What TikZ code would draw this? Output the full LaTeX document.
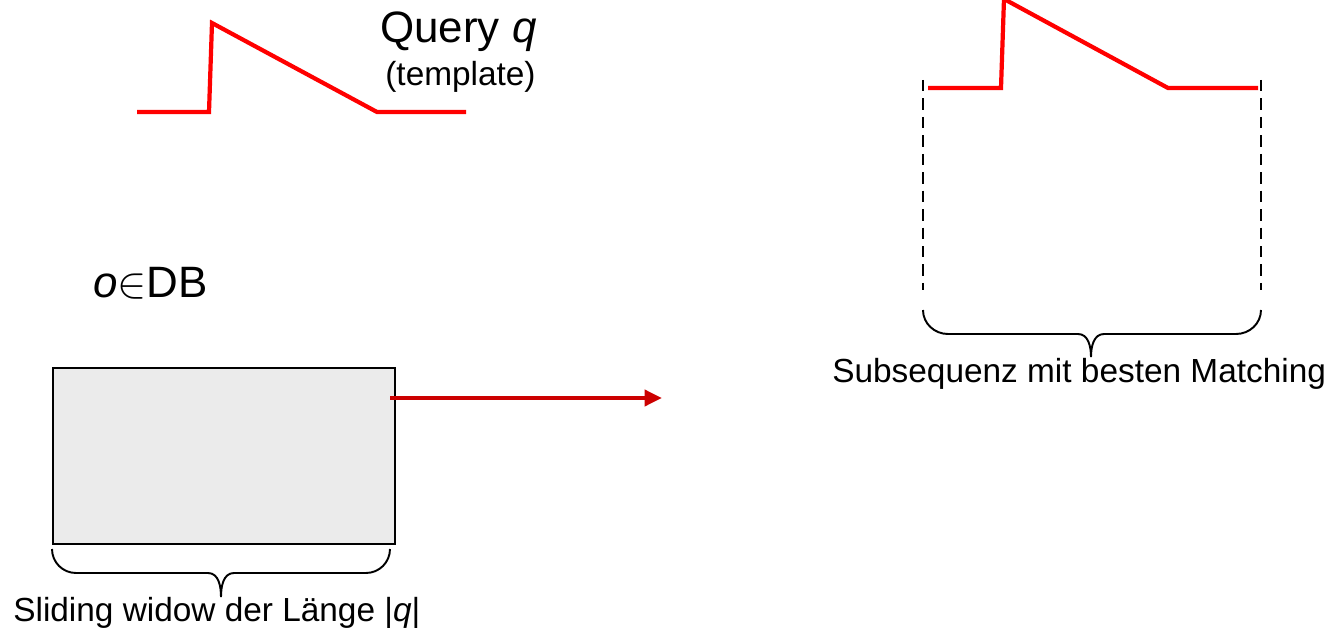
\documentclass[tikz,border=0pt]{standalone}
\usepackage{fontspec}
\setmainfont{Liberation Sans}
\usetikzlibrary{arrows.meta,positioning}

\begin{document}
\begin{tikzpicture}[
  x=0.02cm, y=-0.02cm,
  every node/.style={inner sep=0pt, anchor=base west},
  big/.style={font=\fontsize{25}{30}\selectfont},
  small/.style={font=\fontsize{19}{23}\selectfont},
  sigline/.style={draw=red, line width=2.4pt, line join=miter},
  bound/.style={draw=black, line width=1.5pt, dash pattern=on 6.5pt off 4pt},
  curly/.style={draw=black, line width=1.1pt},
  window/.style={draw=black, line width=1.1pt, fill=black!8,
                 minimum width=6.84cm, minimum height=3.52cm},
  slide/.style={draw=red!80!black, line width=2.3pt,
                -{Triangle[length=3.5mm,width=3.2mm]}}
]
\useasboundingbox (0,0) rectangle (1336,628);

% query template
\draw[sigline] (137,112) -- (209,112) -- (212,23) -- (377,112) -- (466,112);
\node[big] (query) at (380,43) {Query \textit{q}};
\node[small] (tmpl) at (385,86) {(template)};

% database object with sliding window
\node[big] (obj) at (93,297) {\textit{o}$\in$DB};
\node[window, anchor=north west] (win) at (52,367) {};
\draw[curly] (52,549) to[out=-90,in=180] (76,573) -- (208,573)
  to[out=0,in=90] (221,597) to[out=90,in=180] (234,573) -- (366,573)
  to[out=0,in=-90] (390,549);
\node[small] (winlbl) at (13,621) {Sliding widow der Länge |\textit{q}|};

\coordinate (src) at (390,398);
\coordinate (dst) at (662,398);
\draw[slide] (src) -- (dst);

% best matching subsequence
\draw[sigline] (928,88) -- (1001,88) -- (1004,-1) -- (1168,88) -- (1258,88);
\draw[bound] (923,80) -- (923,290);
\draw[bound] (1261,80) -- (1261,290);
\draw[curly] (923,310) to[out=-90,in=180] (948,334) -- (1078,334)
  to[out=0,in=90] (1091,357) to[out=90,in=180] (1104,334) -- (1236,334)
  to[out=0,in=-90] (1261,310);
\node[small] (matchlbl) at (832,382) {Subsequenz mit besten Matching};
\end{tikzpicture}
\end{document}
